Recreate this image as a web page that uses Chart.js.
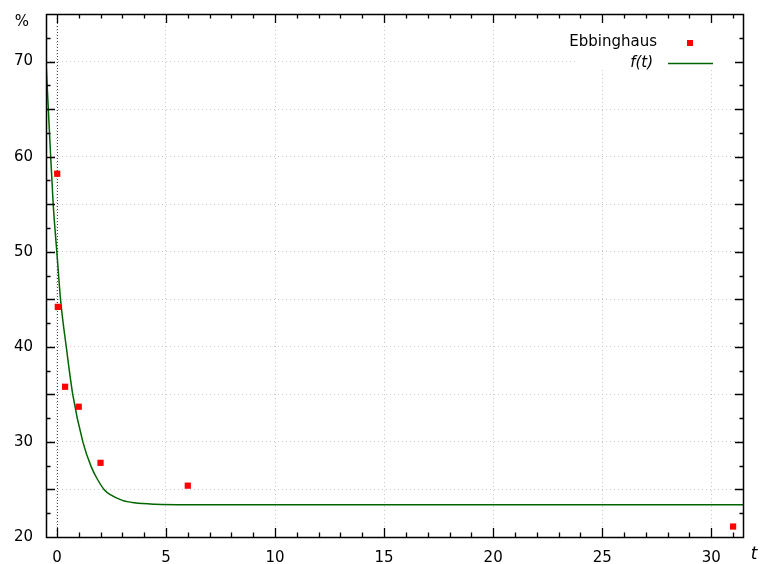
<!DOCTYPE html>
<html>
<head>
<meta charset="utf-8">
<script src="https://cdn.jsdelivr.net/npm/chart.js@4.4.1/dist/chart.umd.min.js"></script>
<style>
html, body {margin: 0; padding: 0; background: #fff}
#wrap {width: 760px; height: 564px}
</style>
</head>
<body>
<div id="wrap"><canvas id="chart" width="760" height="564"></canvas></div>
<script>
"use strict"

/*====================================================================
Data
====================================================================*/
// Ebbinghaus measurements: days since learning / retained percent
const ebbT = [0.0139, 0.0417, 0.375, 1, 2, 6, 31]
const ebbY = [58.2, 44.2, 35.8, 33.7, 27.8, 25.4, 21.1]

// fitted curve f(t)
const fitT = [-0.5, -0.34, -0.17, 0, 0.17, 0.44, 0.73, 1.19, 1.57, 1.85, 2.18, 2.45, 3.0, 3.56, 4.5, 6, 10, 20, 31.5]
const fitY = [70.0, 62.5, 55.0, 49.9, 44.9, 39.8, 34.95, 30.0, 27.4, 26.1, 24.95, 24.45, 23.85, 23.6, 23.45, 23.4, 23.4, 23.4, 23.4]

// axes
const xTicks = [0, 5, 10, 15, 20, 25, 30]
const yTicks = [20, 30, 40, 50, 60, 70]
const yGrid = [20, 25, 30, 35, 40, 45, 50, 55, 60, 65, 70]

const FONT = "DejaVu Sans"
const RED = "#ff0000"
const GREEN = "#006400"

/*====================================================================
Functions
====================================================================*/
// gnuplot style frame: border, inward ticks on all sides, key, axis titles
const frame = {
    id: "frame",
    beforeDatasetsDraw(chart) {
        const c = chart.ctx
        const a = chart.chartArea
        const x0 = Math.round(chart.scales.x.getPixelForValue(0)) + 0.5
        c.save()
        // zero axis
        c.strokeStyle = "#444"
        c.lineWidth = 1
        c.setLineDash([1, 2])
        c.beginPath(); c.moveTo(x0, a.top); c.lineTo(x0, a.bottom); c.stroke()
        // key box hides the grid behind it
        c.fillStyle = "#fff"
        c.fillRect(575, a.top + 1, a.right - 576, 53)
        c.restore()
    },
    afterDraw(chart) {
        const c = chart.ctx
        const a = chart.chartArea
        const sx = chart.scales.x
        const sy = chart.scales.y
        c.save()
        c.strokeStyle = "#000"
        c.lineWidth = 1.5
        c.setLineDash([])
        c.strokeRect(a.left + 0.5, a.top + 0.5, a.right - a.left - 1, a.bottom - a.top)

        c.lineWidth = 1.3
        c.beginPath()
        for (let v = 0; v <= 31; v++) {
            const len = v % 5 === 0 ? 9 : 4.5
            const px = Math.round(sx.getPixelForValue(v)) + 0.5
            c.moveTo(px, a.bottom); c.lineTo(px, a.bottom - len)
            c.moveTo(px, a.top); c.lineTo(px, a.top + len)
        }
        for (let v = 22.5; v < 75; v += 2.5) {
            const len = v % 5 === 0 ? 9 : 4.5
            const py = Math.round(sy.getPixelForValue(v)) + 0.5
            c.moveTo(a.left, py); c.lineTo(a.left + len, py)
            c.moveTo(a.right, py); c.lineTo(a.right - len, py)
        }
        c.stroke()

        // key
        c.fillStyle = "#000"
        c.textBaseline = "middle"
        c.textAlign = "right"
        c.font = "15px '" + FONT + "'"
        c.fillText("Ebbinghaus", 657, 42)
        c.font = "italic 15px '" + FONT + "'"
        c.fillText("f(t)", 653, 63)
        c.fillStyle = RED
        c.fillRect(687, 40, 6, 6)
        c.strokeStyle = GREEN
        c.lineWidth = 1.5
        c.beginPath(); c.moveTo(668, 63.5); c.lineTo(713, 63.5); c.stroke()

        // axis titles
        c.fillStyle = "#000"
        c.textAlign = "center"
        c.font = "15px '" + FONT + "'"
        c.fillText("%", 22, 22)
        c.font = "italic 17px '" + FONT + "'"
        c.fillText("t", 754, 555)
        c.restore()
    }
}

function makeChart() {
    const ctx = document.getElementById("chart")
    const grid = {
        color: "#c8c8c8",
        lineWidth: 1,
        drawTicks: false
    }
    return new Chart(ctx, {
        type: "scatter",
        data: {
            datasets: [
                {
                    label: "Ebbinghaus",
                    data: ebbT.map((t, i) => ({x: t, y: ebbY[i]})),
                    pointStyle: "rect",
                    pointRadius: 4.4,
                    pointBorderWidth: 0,
                    backgroundColor: RED,
                    borderColor: RED,
                    showLine: false,
                    order: 1
                },
                {
                    label: "f(t)",
                    data: fitT.map((t, i) => ({x: t, y: fitY[i]})),
                    showLine: true,
                    borderColor: GREEN,
                    borderWidth: 1.5,
                    pointRadius: 0,
                    cubicInterpolationMode: "monotone",
                    order: 2
                }
            ]
        },
        options: {
            responsive: false,
            animation: false,
            devicePixelRatio: 1,
            layout: {padding: {top: 14, right: 16, left: 0, bottom: 0}},
            plugins: {legend: {display: false}, tooltip: {enabled: false}},
            scales: {
                x: {
                    type: "linear",
                    min: -0.5,
                    max: 31.5,
                    afterBuildTicks: s => { s.ticks = xTicks.map(v => ({value: v})) },
                    afterFit: s => { s.height = 27; s.paddingLeft = 0; s.paddingRight = 0 },
                    grid: grid,
                    border: {display: false, dash: [1, 3]},
                    ticks: {
                        color: "#000",
                        padding: 12,
                        maxRotation: 0,
                        font: {family: FONT, size: 15}
                    }
                },
                y: {
                    type: "linear",
                    min: 20,
                    max: 75,
                    afterBuildTicks: s => { s.ticks = yGrid.map(v => ({value: v})) },
                    afterFit: s => { s.width = 46; s.paddingTop = 0; s.paddingBottom = 0 },
                    grid: grid,
                    border: {display: false, dash: [1, 3]},
                    ticks: {
                        color: "#000",
                        padding: 13,
                        font: {family: FONT, size: 15},
                        callback: v => yTicks.includes(v) ? String(v) : ""
                    }
                }
            }
        },
        plugins: [frame]
    })
}

makeChart()
</script>
</body>
</html>
